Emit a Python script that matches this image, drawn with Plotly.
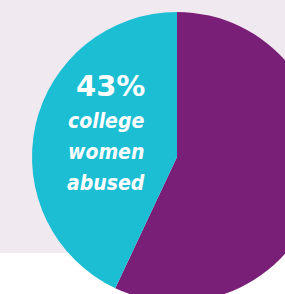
import plotly.graph_objects as go

labels = ["not abused", "college women abused"]
values = [57, 43]
colors = ["#7a1f78", "#1cbed4"]

W, H = 330, 310
cx, cy, r = 177, 157, 145

fig = go.Figure(go.Pie(
    labels=labels, values=values, sort=False, direction="clockwise",
    rotation=0, marker=dict(colors=colors, line=dict(width=0)),
    textinfo="none", hoverinfo="label+percent", showlegend=False,
    domain=dict(x=[(cx - r) / W, (cx + r) / W], y=[1 - (cy + r) / H, 1 - (cy - r) / H]),
))

fig.add_shape(type="rect", xref="paper", yref="paper", x0=0, x1=1,
              y0=1 - 253 / H, y1=1, fillcolor="#f1e9f0", line=dict(width=0), layer="below")

fig.add_annotation(x=110 / W, y=1 - 86 / H, xref="paper", yref="paper",
                   xanchor="center", yanchor="middle",
                   text=f"<b>{values[1]}%</b>", showarrow=False,
                   font=dict(family="DejaVu Sans", size=29, color="white"))
words = labels[1].split(" ")
for i, w in enumerate(words):
    fig.add_annotation(x=106 / W, y=1 - (121 + 31 * i) / H, xref="paper", yref="paper",
                       xanchor="center", yanchor="middle",
                       text=f"<b><i>{w}</i></b>", showarrow=False,
                       font=dict(family="DejaVu Sans Condensed", size=21, color="white"))

fig.update_layout(width=W, height=H, margin=dict(l=0, r=0, t=0, b=0),
                  paper_bgcolor="white", plot_bgcolor="white")

fig.write_html("out.html", config={"displayModeBar": False}, post_script=(
    "document.body.style.margin='0';document.body.style.overflow='hidden';"
    "document.documentElement.style.overflow='hidden';"))
